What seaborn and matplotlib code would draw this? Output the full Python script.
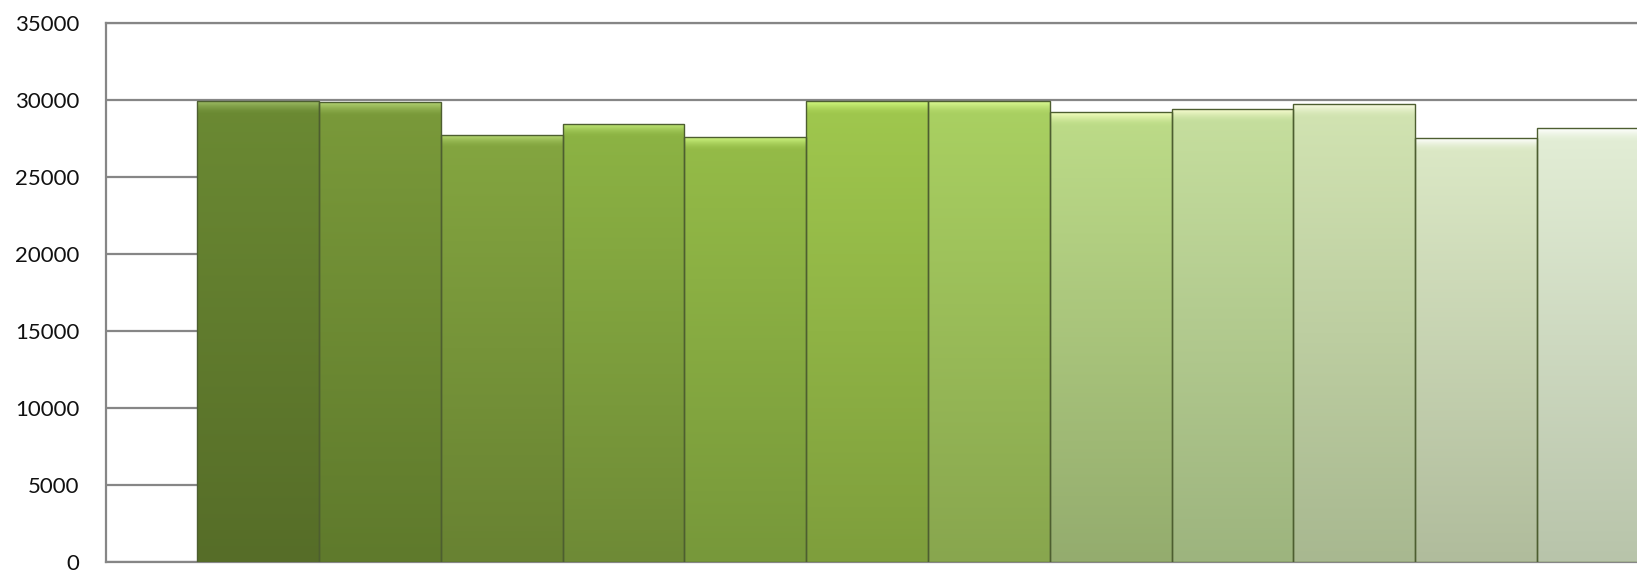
import matplotlib
import matplotlib.pyplot as plt
import matplotlib.colors as mcolors
import numpy as np
import pandas as pd
import seaborn as sns

matplotlib.use('Agg')

# one bar per series
series = ['1', '2', '3', '4', '5', '6', '7', '8', '9', '10', '11', '12']
values = [29950, 29850, 27730, 28440, 27550, 29950, 29950, 29180, 29430, 29750, 27510, 28160]

# colours near the top and the bottom of each bar (vertical shading)
top_colors = ['#6b8a33', '#7a9a3a', '#84a640', '#8db444', '#95bc48', '#a0c84e',
              '#aad162', '#bddc88', '#c6df9e', '#d2e4b2', '#dce9c6', '#e3eed6']
bottom_colors = ['#566d28', '#5f7a2c', '#688232', '#6e8a36', '#77983a', '#7e9e3c',
                 '#88a64e', '#94ac6e', '#9db47e', '#a8b890', '#b0bc9c', '#b8c4aa']

y_ticks = [0, 5000, 10000, 15000, 20000, 25000, 30000, 35000]


def shade_bar(ax, patch, top, bottom):
    """Paint a vertical gradient with a soft light bevel at the top into one bar."""
    x0, y0 = patch.get_x(), patch.get_y()
    w, h = patch.get_width(), patch.get_height()
    n = 400
    t = np.linspace(0, 1, n)[:, None]
    c_top = np.array(mcolors.to_rgb(top))
    c_bot = np.array(mcolors.to_rgb(bottom))
    grad = c_bot + (c_top - c_bot) * t
    # bevel highlight fading down from the top edge
    k = 12
    hl = np.clip(c_top + 0.22, 0, 1)
    fade = np.linspace(0, 1, k)[:, None] ** 1.5
    grad[n - k:] = c_top + (hl - c_top) * fade
    img = np.repeat(grad[:, None, :], 2, axis=1)
    im = ax.imshow(img, extent=(x0, x0 + w, y0, y0 + h), origin='lower',
                   aspect='auto', zorder=3, interpolation='bilinear')
    im.set_clip_path(patch)


def main():
    data = pd.DataFrame({'series': series, 'value': values})

    sns.set_style('white')
    plt.rcParams['font.family'] = ['Lato', 'DejaVu Sans']

    fig = plt.figure(figsize=(16.37, 5.71), dpi=100)
    W, H = 1637, 571
    left, right = 106, 1750
    top, bottom = 22.7, 562
    ax = fig.add_axes([left / W, (H - bottom) / H, (right - left) / W, (bottom - top) / H])

    sns.barplot(data=data, x='series', y='value', hue='series', palette=top_colors,
                width=1.0, legend=False, ax=ax, zorder=2,
                edgecolor='#4d5e30', linewidth=1.0)

    for patch, tc, bc in zip(ax.patches, top_colors, bottom_colors):
        shade_bar(ax, patch, tc, bc)
        patch.set_zorder(4)
        patch.set_facecolor('none')

    ax.set_xlim(-1.25, len(series) - 1 + 1.25)
    ax.set_ylim(0, 35000)
    ax.set_yticks(y_ticks)
    ax.set_yticklabels([str(v) for v in y_ticks], fontsize=16, color='#111111')
    ax.tick_params(axis='y', length=0, pad=19)
    for lbl in ax.get_yticklabels():
        lbl.set_verticalalignment('center_baseline')
    ax.set_xticks([])
    ax.set_xlabel('')
    ax.set_ylabel('')

    ax.yaxis.grid(True, color='#868686', linewidth=1.6, zorder=0)
    ax.set_axisbelow(True)
    for side in ['left', 'top', 'bottom']:
        ax.spines[side].set_visible(True)
        ax.spines[side].set_color('#868686')
        ax.spines[side].set_linewidth(1.6)
    ax.spines['right'].set_visible(False)

    fig.savefig('out.png', dpi=100)
    plt.close(fig)


if __name__ == "__main__":
    main()
